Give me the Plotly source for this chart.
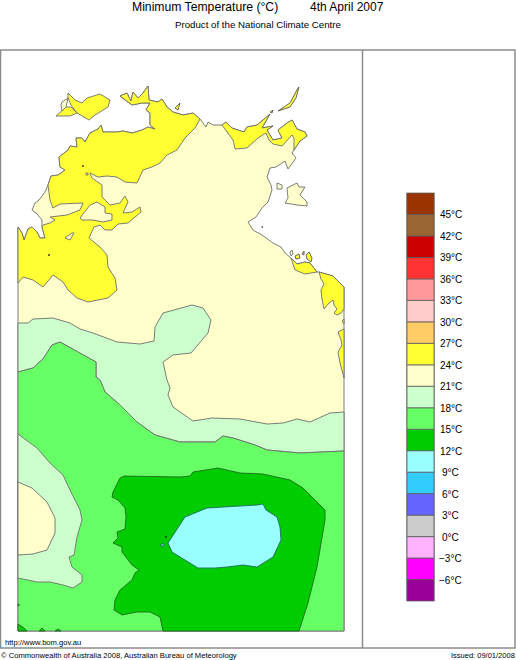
import plotly.graph_objects as go

# legend bands, lowest first
band_edges = [-9, -6, -3, 0, 3, 6, 9, 12, 15, 18, 21, 24, 27, 30, 33, 36, 39, 42, 45]
band_colors = ['#990099', '#FF00FF', '#FFB3FF', '#CCCCCC', '#6666FF', '#33CCFF', '#99FFFF',
               '#00CC00', '#66FF66', '#CCFFCC', '#FFFFCC', '#FFFF33', '#FFCC66', '#FFCCCC',
               '#FF9999', '#FF3333', '#CC0000', '#996633', '#993300']
label_temps = [45, 42, 39, 36, 33, 30, 27, 24, 21, 18, 15, 12, 9, 6, 3, 0, -3, -6]

# traced map outlines, units are reference pixels
coast_west = [(18, 227), (22, 233), (24, 240), (28, 229), (32, 227), (37, 232), (40, 238), (45, 238), (42, 227)]
coast_lobe = [(42, 220), (37, 214), (32, 210), (35, 203), (39, 200), (42, 196), (45, 192)]
coast_top = [(48, 185), (51, 176), (58, 175), (65, 170), (60, 167), (59, 157), (68, 150), (70, 146), (77, 147),
             (76, 138), (82, 138), (85, 142), (90, 133), (98, 129), (101, 125), (103, 132), (117, 132), (123, 131),
             (132, 133), (142, 130), (148, 127), (155, 129), (150, 125), (150, 113), (146, 110), (150, 103),
             (142, 103), (132, 105), (125, 100), (120, 96), (127, 93), (131, 101), (133, 92), (138, 98), (143, 93),
             (148, 86), (149, 100), (158, 102), (162, 99), (167, 107), (173, 112), (183, 115), (193, 113), (200, 119)]
coast_mid = [(206, 127), (208, 122), (213, 125)]
coast_gove = [(222, 125), (226, 122), (232, 128), (244, 132), (247, 127), (257, 125), (263, 120), (270, 114),
              (262, 128), (273, 126), (267, 130), (273, 140), (282, 138), (278, 130), (287, 123), (292, 120),
              (297, 129), (305, 132), (307, 136), (300, 141), (294, 150)]
coast_gulf = [(292, 153), (296, 158), (288, 169), (285, 161), (276, 167), (270, 168), (267, 177), (271, 185),
              (272, 190), (268, 202), (262, 208), (256, 217), (248, 222), (253, 230), (262, 235), (273, 243),
              (281, 247), (285, 253), (291, 258)]
coast_arc = [(297, 264), (305, 262), (310, 263), (317, 272)]
coast_east = [(319, 272), (333, 276), (344, 287)]
map_corners = [(344, 631), (18, 631)]

yellow_inner = [(195, 128), (185, 138), (177, 150), (167, 155), (160, 163), (152, 167), (143, 170), (137, 183),
                (125, 182), (117, 177), (107, 176), (98, 177), (90, 173), (92, 178), (102, 185), (102, 197),
                (110, 205), (120, 203), (125, 196), (128, 202), (123, 213), (132, 212), (140, 207), (141, 212),
                (128, 223), (118, 224), (112, 230), (105, 230), (100, 225), (94, 227), (89, 238), (100, 247),
                (107, 255), (108, 267), (115, 278), (117, 290), (108, 298), (88, 302), (77, 298), (68, 290),
                (63, 282), (53, 275), (43, 287), (33, 280), (23, 277), (18, 283)]
yellow_neck = [(43, 225), (50, 223), (55, 220), (50, 217), (67, 215), (80, 210), (83, 203), (60, 204), (53, 208),
               (50, 200)]
yellow_gove_inner = [(294, 138), (292, 135), (282, 146), (273, 144), (269, 140), (266, 133), (258, 138), (247, 148),
                     (235, 149), (233, 140)]
yellow_arc_inner = [(305, 274), (295, 270)]
yellow_east = [(319, 272), (321, 279), (324, 284), (321, 290), (322, 299), (324, 309), (329, 303), (333, 300),
               (334, 305), (337, 309), (334, 313), (337, 315), (341, 313), (344, 309), (344, 287), (333, 276)]
yellow_east_small = [(344, 319), (342, 321), (344, 324)]
yellow_east_low = [(344, 329), (338, 332), (341, 340), (342, 345), (338, 352), (340, 363), (344, 378)]
melville = [(68, 93), (75, 100), (82, 103), (87, 98), (100, 94), (110, 100), (108, 107), (95, 115), (89, 120),
            (77, 113), (71, 105), (68, 98)]
bathurst_south = [(66, 107), (71, 107), (77, 113), (70, 116), (56, 116), (60, 112)]
yellow_islets = [
    [(175, 108), (180, 103), (178, 110)],
    [(278, 111), (290, 103), (298, 88), (299, 87), (296, 98), (290, 107)],
    [(270, 112), (273, 110), (272, 113)],
    [(295, 256), (299, 254), (300, 258), (296, 259)],
    [(302, 254), (304, 251), (304, 255)],
    [(306, 255), (309, 252), (312, 258), (311, 262), (307, 259)],
]
pale_islands = [
    [(62, 102), (68, 98), (66, 107), (62, 111), (61, 105)],
    [(287, 188), (297, 183), (299, 187), (305, 187), (300, 195), (307, 202), (307, 206), (297, 205), (285, 203), (288, 198)],
    [(277, 183), (282, 185), (282, 189), (277, 189)],
    [(262, 226), (263, 227), (262, 228)],
    [(290, 252), (292, 250), (293, 254), (291, 256)],
]
pale_holes = [
    [(80, 218), (90, 205), (97, 202), (105, 207), (105, 213), (112, 214), (112, 220), (103, 222), (93, 220), (82, 220)],
    [(65, 238), (72, 233), (74, 233), (70, 240)],
    [(86, 173), (88, 173), (88, 175), (86, 175)],
]

band_upper = [(18, 323), (28, 323), (33, 319), (53, 318), (70, 323), (80, 329), (93, 333), (117, 342), (140, 344),
              (154, 341), (155, 327), (163, 313), (192, 305), (203, 308), (211, 320), (208, 333), (191, 353),
              (173, 355), (163, 362), (167, 380), (170, 388), (168, 395), (173, 407), (193, 421), (212, 418),
              (240, 419), (267, 424), (283, 423), (297, 419), (310, 422), (330, 413), (344, 412)]
band_lower = [(344, 451), (300, 453), (267, 450), (255, 445), (233, 438), (223, 436), (215, 442), (180, 442),
              (155, 435), (137, 422), (120, 405), (105, 392), (100, 380), (96, 377), (96, 362), (83, 355),
              (60, 342), (52, 345), (43, 359), (33, 368), (18, 372)]
sw_green = [(18, 434), (37, 448), (50, 463), (63, 475), (70, 490), (80, 510), (82, 520), (77, 537), (74, 555),
            (69, 557), (72, 567), (82, 575), (82, 582), (73, 588), (63, 585), (50, 582), (37, 582), (18, 578)]
sw_pale = [(18, 482), (32, 488), (47, 502), (55, 518), (55, 533), (47, 550), (33, 554), (18, 555)]
dark_green = [(124, 476), (180, 477), (190, 476), (193, 472), (218, 468), (240, 473), (263, 474), (290, 480),
              (303, 488), (325, 510), (325, 520), (317, 567), (308, 603), (299, 631), (163, 631), (160, 617),
              (150, 612), (137, 612), (122, 615), (114, 610), (115, 600), (120, 590), (132, 580), (135, 573),
              (139, 570), (132, 565), (122, 552), (122, 547), (113, 543), (118, 538), (117, 532), (125, 529),
              (126, 517), (125, 508), (118, 500), (112, 497), (113, 492), (120, 478)]
dark_green_corners = [
    [(18, 624), (24, 628), (27, 631), (18, 631)],
    [(39, 631), (42, 628), (45, 631)],
    [(55, 631), (58, 629), (61, 631)],
    [(18, 604), (19.5, 605), (18, 606)],
]
cyan_core = [(168, 543), (178, 527), (185, 517), (207, 508), (228, 507), (257, 505), (263, 504), (266, 510),
             (277, 517), (280, 527), (281, 540), (273, 557), (257, 567), (243, 565), (227, 567), (215, 568),
             (198, 568), (190, 563), (180, 557), (172, 552)]
cyan_spot = [(161, 544), (164, 544), (164, 546), (161, 546)]
lake_x = [83, 49, 166]
lake_y = [166, 255, 537]

PALE = '#FFFFCC'
YELLOW = '#FFFF33'
LIGHT = '#CCFFCC'
GREEN = '#66FF66'
DARK = '#00CC00'
CYAN = '#99FFFF'
FONT = 'Liberation Sans'

fig = go.Figure()


def add_poly(points, color, line='#6E6E6E', width=0.9):
    fig.add_trace(go.Scatter(
        x=[p[0] for p in points] + [points[0][0]],
        y=[p[1] for p in points] + [points[0][1]],
        mode='lines',
        fill='toself',
        fillcolor=color,
        line=dict(color=line, width=width),
        hoverinfo='skip',
        showlegend=False,
    ))


# land first, then the temperature regions over it
add_poly(coast_west + coast_lobe + coast_top + coast_mid + coast_gove + coast_gulf + coast_arc + coast_east + map_corners, PALE)
add_poly(coast_west + yellow_neck + coast_top + yellow_inner, YELLOW)
add_poly(coast_gove + yellow_gove_inner, YELLOW)
add_poly([(291, 258)] + coast_arc + yellow_arc_inner, YELLOW)
add_poly(yellow_east, YELLOW)
add_poly(yellow_east_small, YELLOW)
add_poly(yellow_east_low, YELLOW)
add_poly(melville, YELLOW)
add_poly(bathurst_south, YELLOW)
for islet in yellow_islets:
    add_poly(islet, YELLOW, line='#555555')
for island in pale_islands + pale_holes:
    add_poly(island, PALE)

add_poly(band_upper + band_lower, LIGHT)
add_poly(band_lower + [(18, 631), (344, 631)], GREEN)
add_poly(sw_green, LIGHT)
add_poly(sw_pale, PALE)
add_poly(dark_green, DARK, line='#1F6B1F')
for corner in dark_green_corners:
    add_poly(corner, DARK, line='#1F6B1F')
add_poly(cyan_core, CYAN, line='#1F6B5F')
add_poly(cyan_spot, CYAN, line='#1F6B5F')

fig.add_trace(go.Scatter(x=lake_x, y=lake_y, mode='markers', hoverinfo='skip', showlegend=False,
                         marker=dict(color='black', size=1.5, symbol='square')))

# colour key, on its own temperature axis
fig.add_trace(go.Bar(
    x=[0] * len(band_edges),
    y=[3] * len(band_edges),
    base=band_edges,
    width=1,
    marker=dict(color=band_colors, line=dict(color='#5A5A5A', width=0.8)),
    xaxis='x2',
    yaxis='y2',
    hoverinfo='skip',
    showlegend=False,
))

annotations = []
for t in label_temps:
    label = f'{t}°C'.replace('-', '\u2212')
    annotations.append(dict(x=450.5, y=t, xref='x', yref='y2', yshift=-0.5, text=label, showarrow=False,
                            font=dict(family=FONT, size=10, color='black')))


def add_text(x, y, text, size, anchor='left', shift=0):
    # annotations outside the axis range get hidden, so edge text uses xshift
    annotations.append(dict(x=x, y=y, xref='x', yref='y', xshift=shift, text=text, showarrow=False, xanchor=anchor,
                            font=dict(family=FONT, size=size, color='black')))


add_text(130, 7, 'Minimum Temperature (°C)', 12.2)
add_text(308, 7, '4th April 2007', 12)
add_text(258, 24, 'Product of the National Climate Centre', 9.7, 'center')
add_text(3, 642, 'http://www.bom.gov.au', 7.6)
add_text(0, 655, '© Commonwealth of Australia 2008, Australian Bureau of Meteorology', 7.6, shift=-1)
add_text(516, 655, 'Issued: 09/01/2008', 7.5, 'right', shift=1)

frame = dict(color='#8C8C8C', width=1.5)
shapes = [
    dict(type='rect', x0=0.5, x1=515, y0=50, y1=648, xref='x', yref='y', line=frame, layer='below'),
    dict(type='line', x0=362.5, x1=362.5, y0=50, y1=648, xref='x', yref='y', line=frame, layer='below'),
    dict(type='rect', x0=406.5, x1=434.5, y0=193, y1=601, xref='x', yref='y',
         line=dict(color='#8C8C8C', width=1), layer='below'),
]

fig.update_layout(
    width=516,
    height=660,
    margin=dict(l=0, r=0, t=0, b=0),
    paper_bgcolor='white',
    plot_bgcolor='white',
    showlegend=False,
    barmode='overlay',
    hovermode=False,
    annotations=annotations,
    shapes=shapes,
    xaxis=dict(range=[0, 516], domain=[0, 1], visible=False),
    yaxis=dict(range=[660, 0], domain=[0, 1], visible=False),
    xaxis2=dict(range=[-0.5, 0.5], domain=[407 / 516, 434 / 516], anchor='y2', visible=False),
    yaxis2=dict(range=[-9, 48], domain=[59 / 660, 467 / 660], anchor='x2', visible=False),
)

fig.write_html("out.html", config={'displayModeBar': False},
               post_script="document.body.style.margin='0';")
